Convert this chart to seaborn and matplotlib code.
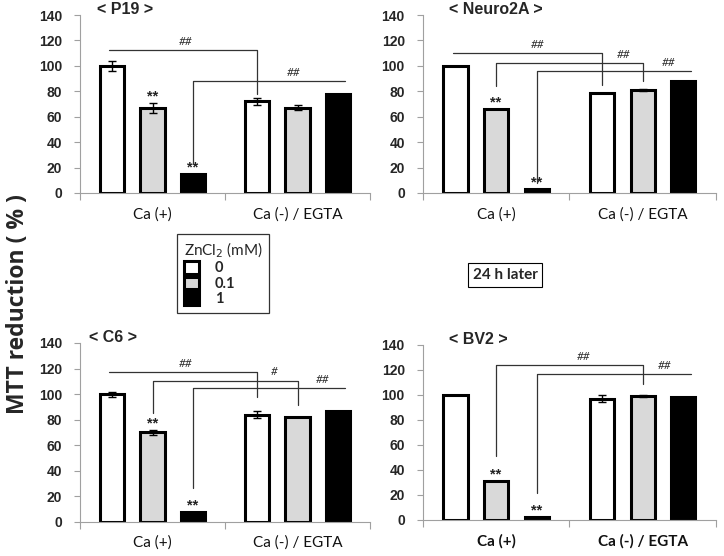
import matplotlib
matplotlib.use('Agg')
import matplotlib.pyplot as plt
import seaborn as sns
import pandas as pd
from matplotlib.patches import Patch
from matplotlib.ticker import FixedLocator

# ---------------- data ----------------
conditions = ['Ca (+)', 'Ca (-) / EGTA']
zn_levels = ['0', '0.1', '1']
panel_names = ['< P19 >', '< Neuro2A >', '< C6 >', '< BV2 >']

# order: Ca(+) 0, 0.1, 1 ; Ca(-) 0, 0.1, 1
p19_vals = [100, 67, 15, 72, 67, 78]
p19_err = [4, 4, 0, 3, 2, 0]
neuro_vals = [100, 66, 3, 79, 81, 88]
neuro_err = [0, 0, 0, 0, 1, 0]
c6_vals = [100, 70, 8, 84, 82, 87]
c6_err = [2, 2, 0, 3, 0, 0]
bv2_vals = [100, 31, 2, 97, 99, 98]
bv2_err = [0, 0, 0, 3, 1, 0]

panel_vals = [p19_vals, neuro_vals, c6_vals, bv2_vals]
panel_errs = [p19_err, neuro_err, c6_err, bv2_err]

# bars marked ** : (condition index, zn index)
star_bars = [(0, 1), (0, 2)]

# brackets: (from bar, to bar, level, start-drop y, end-drop y, label, label x)
p19_br = [((0, 0), (1, 0), 112.5, None, 78, '##', 0.23),
          ((0, 2), (1, 2), 88, 23.6, None, '##', 0.97)]
neuro_br = [((0, 0), (1, 0), 110, None, 85, '##', 0.28),
            ((0, 1), (1, 1), 102, 84, 88, '##', 0.87),
            ((0, 2), (1, 2), 96, 8, None, '##', 1.18)]
c6_br = [((0, 0), (1, 0), 117.5, None, 97.7, '##', 0.23),
         ((0, 1), (1, 1), 110.5, 85, 91.5, '#', 0.84),
         ((0, 2), (1, 2), 105, 26.6, None, '##', 1.17)]
bv2_br = [((0, 1), (1, 1), 124, 51, 109, '##', 0.60),
          ((0, 2), (1, 2), 116.7, 21.5, None, '##', 1.15)]
panel_br = [p19_br, neuro_br, c6_br, bv2_br]

yticks = [0, 20, 40, 60, 80, 100, 120, 140]

# ---------------- style ----------------
sns.set_style('white')
plt.rcParams['font.family'] = ['Liberation Sans', 'DejaVu Sans']
palette = {'0': 'white', '0.1': '#d9d9d9', '1': 'black'}
cal_font = 'Lato'

fig = plt.figure(figsize=(7.24, 5.56), dpi=100)
rects = [[0.1105, 0.6529, 0.4006, 0.320],
         [0.584, 0.6529, 0.405, 0.320],
         [0.1105, 0.0612, 0.4006, 0.322],
         [0.584, 0.065, 0.405, 0.315]]
title_x = [0.059, 0.09, 0.03, 0.09]

for i in range(4):
    ax = fig.add_axes(rects[i])
    vals = panel_vals[i]
    errs = panel_errs[i]
    df = pd.DataFrame({
        'cond': [c for c in conditions for _ in zn_levels],
        'zn': [z for _ in conditions for z in zn_levels],
        'val': vals,
        'err': errs,
    })
    sns.barplot(data=df, x='cond', y='val', hue='zn', order=conditions,
                hue_order=zn_levels, palette=palette, edgecolor='black',
                linewidth=2.2, width=0.83, gap=0.4, errorbar=None,
                legend=False, ax=ax)
    # bar centers: patches ordered by hue then by category
    centers = {}
    for k, p in enumerate(ax.patches[:6]):
        h = k // 2
        c = k % 2
        centers[(c, h)] = p.get_x() + p.get_width() / 2
    # error bars
    for ci in range(2):
        for hi in range(3):
            idx = ci * 3 + hi
            if errs[idx] > 0:
                ax.errorbar(centers[(ci, hi)], vals[idx], yerr=errs[idx],
                            fmt='none', ecolor='black', elinewidth=1.0,
                            capsize=3, capthick=1.0, zorder=5)
    # stars
    for (ci, hi) in star_bars:
        idx = ci * 3 + hi
        ax.text(centers[(ci, hi)], vals[idx] + errs[idx] + 2, '**',
                ha='center', va='baseline', fontsize=10.5, fontweight='bold',
                color='#222222')
    # brackets
    for (b0, b1, lev, y0, y1, lab, lx) in panel_br[i]:
        xa = centers[b0] if y0 is not None else centers[b0] - 0.02
        xb = centers[b1] if y1 is not None else centers[b1] + 0.05
        xs, ys = [], []
        if y0 is not None:
            xs.append(xa); ys.append(y0)
        xs += [xa, xb]; ys += [lev, lev]
        if y1 is not None:
            xs.append(xb); ys.append(y1)
        ax.plot(xs, ys, color='#333333', lw=0.9, zorder=6)
        ax.text(lx, lev + 2.5, lab, ha='center', va='bottom', fontsize=8.5,
                family=cal_font, color='#333333', style='italic')

    ax.set_xlim(-0.5, 1.5)
    ax.set_ylim(0, 140)
    ax.set_yticks(yticks)
    ax.set_yticklabels([str(t) for t in yticks], fontsize=10,
                       fontweight='bold')
    ax.set_xlabel('')
    ax.set_ylabel('')
    ax.xaxis.set_minor_locator(FixedLocator([-0.5, 0.5, 1.5]))
    ax.tick_params(axis='x', which='major', length=0, pad=10)
    ax.tick_params(axis='x', which='minor', length=5, width=0.8,
                   color='#a0a0a0', direction='out', bottom=True)
    ax.tick_params(axis='y', which='major', length=4, width=0.8,
                   color='#a0a0a0', direction='out', left=True, pad=9)
    ax.set_xticks([0, 1])
    ax.set_xticklabels(conditions, fontsize=11, family=cal_font,
                       fontweight='bold' if i == 3 else 'normal',
                       color='#111111')
    for s in ['top', 'right']:
        ax.spines[s].set_visible(False)
    for s in ['left', 'bottom']:
        ax.spines[s].set_color('#a0a0a0')
        ax.spines[s].set_linewidth(0.8)
    ax.text(title_x[i], 1.03, panel_names[i], transform=ax.transAxes,
            ha='left', va='center', fontsize=11.5, fontweight='bold')

# y label
fig.text(18 / 724, 1 - 304 / 556, 'MTT reduction ( % )', rotation=90,
         ha='center', va='center', fontsize=16.5, fontweight='bold',
         family='Open Sans')

# legend
handles = [Patch(facecolor=palette[z], edgecolor='black', linewidth=2.2)
           for z in zn_levels]
leg = fig.legend(handles=handles, labels=zn_levels,
                 title=r'ZnCl$_2$ (mM)', loc='upper left',
                 bbox_to_anchor=(177 / 724, 1 - 234 / 556),
                 borderaxespad=0,
                 frameon=True, fancybox=False, edgecolor='black',
                 handlelength=1.05, handleheight=0.95, handletextpad=1.1,
                 labelspacing=0.08, borderpad=0.45,
                 prop={'family': cal_font, 'weight': 'bold', 'size': 10.5},
                 title_fontproperties={'family': cal_font, 'size': 11})
leg._legend_box.align = 'left'
leg.get_frame().set_linewidth(0.9)

# 24 h later box
fig.text(505 / 724, 1 - 275 / 556, '24 h later', ha='center', va='center',
         fontsize=11, fontweight='bold', family=cal_font,
         bbox=dict(boxstyle='square,pad=0.3', facecolor='white',
                   edgecolor='black', linewidth=0.8))

fig.savefig('out.png', dpi=100)
